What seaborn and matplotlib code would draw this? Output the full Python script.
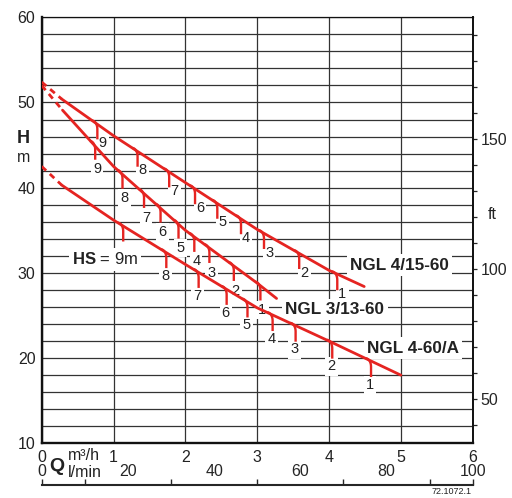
import numpy as np
import matplotlib
matplotlib.use('Agg')
import matplotlib.pyplot as plt
import seaborn as sns

# pump curves (Q in m3/h, H in m)
q_415 = [0.28, 1.00, 2.00, 3.00, 4.00, 4.49]
h_415 = [50.4, 46.1, 40.6, 35.1, 30.3, 28.4]
q_313 = [0.29, 1.00, 2.00, 3.00, 3.27]
h_313 = [49.1, 42.5, 35.0, 28.8, 27.0]
q_460 = [0.28, 1.00, 2.00, 3.00, 4.00, 5.00]
h_460 = [40.3, 36.2, 31.0, 25.9, 22.0, 18.0]

# shut-off head (dashed start at Q=0)
h0_415 = 52.4
h0_313 = 52.0
h0_460 = 42.5

# flow where each stage mark hangs off the curve
stages_415 = [0.72, 1.28, 1.72, 2.08, 2.39, 2.72, 3.04, 3.53, 4.06]
stages_313 = [0.69, 1.07, 1.37, 1.60, 1.85, 2.07, 2.28, 2.62, 2.99]
stages_460 = [1.08, 1.68, 2.13, 2.52, 2.81, 3.16, 3.48, 3.99, 4.53]
stage_labels = ['9', '8', '7', '6', '5', '4', '3', '2', '1']

RED = '#e52421'
INK = '#222222'

sns.set_style('white')
plt.rcParams['font.family'] = ['Liberation Sans', 'DejaVu Sans']
plt.rcParams['mathtext.fontset'] = 'custom'
plt.rcParams['mathtext.rm'] = 'Liberation Sans'
plt.rcParams['mathtext.bf'] = 'Liberation Sans:bold'

fig = plt.figure(figsize=(5.12, 4.98), dpi=100)
ax = fig.add_axes([0.0814, 0.1098, 0.8418, 0.8555])
ax.set_xlim(0, 6)
ax.set_ylim(10, 60)
ax.set_xticks(range(7))
ax.set_yticks(range(10, 61, 10))
ax.set_yticks(range(10, 61, 2), minor=True)
ax.set_axisbelow(True)
ax.grid(True, which='both', color='#333333', lw=0.9)
ax.tick_params(which='both', length=0, labelsize=11.5, colors=INK)
ax.tick_params(axis='y', pad=4.5)
ax.tick_params(axis='x', pad=4.5)
for s, w in [('left', 1.7), ('bottom', 1.7), ('right', 1.3), ('top', 0.9)]:
    ax.spines[s].set_linewidth(w)
    ax.spines[s].set_color('#111111')

# right axis in feet
sec_y = ax.secondary_yaxis('right', functions=(lambda m: m / 0.3048, lambda f: f * 0.3048))
sec_y.set_yticks([50, 100, 150])
sec_y.set_yticks(range(40, 200, 10), minor=True)
sec_y.tick_params(which='both', length=3, width=0.9, direction='out', labelsize=11.5, pad=2.5)
sec_y.spines['right'].set_linewidth(1.3)
ax.text(1.036, 36.8, 'ft', transform=ax.get_yaxis_transform(), fontsize=11.5,
        ha='left', va='center', color=INK)

# second flow axis in l/min
sec_x = ax.secondary_xaxis(-0.098, functions=(lambda q: q * 1000 / 60, lambda l: l * 60 / 1000))
sec_x.set_alignment('top')
sec_x.set_xticks(range(0, 101, 20))
sec_x.set_xticks([0, 10, 30, 50, 70, 90, 100], minor=True)
sec_x.xaxis.remove_overlapping_locs = False
sec_x.tick_params(which='major', length=0, pad=4.5, labelsize=11.5)
sec_x.tick_params(which='minor', length=4, width=1.0, direction='out')
sec_x.spines['top'].set_linewidth(1.5)


def draw_pump(q, h, h0, stages, labels, dx, dy):
    ax.plot([0, q[0]], [h0, h[0]], color=RED, lw=2.0, dashes=(2.2, 1.8), zorder=4)
    sns.lineplot(x=q, y=h, color=RED, lw=2.0, sort=False, ax=ax, zorder=4)
    t = np.linspace(0, np.pi / 2, 14)
    for qs, lab in zip(stages, labels):
        hs = np.interp(qs, q, h)
        xs = np.append(qs - 0.02 + 0.075 * np.sin(t), qs + 0.055)
        ys = np.append(hs + 0.1 - 1.0 * (1 - np.cos(t)), hs - 2.1)
        ax.plot(xs, ys, color=RED, lw=1.7, solid_capstyle='butt', zorder=4)
        if lab:
            ax.annotate(lab, (qs, hs), xytext=(dx, dy), textcoords='offset points',
                        ha='center', va='center', fontsize=10.5, color=INK, zorder=3,
                        bbox=dict(boxstyle='square,pad=0.15', fc='white', ec='none'))


draw_pump(q_415, h_415, h0_415, stages_415, stage_labels, 6.5, -15.5)
draw_pump(q_313, h_313, h0_313, stages_313, stage_labels, 4.2, -19.8)
draw_pump(q_460, h_460, h0_460, stages_460, [''] + stage_labels[1:], 2.2, -18.5)

box = dict(boxstyle='square,pad=0.2', fc='white', ec='none')
ax.text(0.88, 31.6, r'$\mathbf{HS}$ = 9m', fontsize=12, ha='center', va='center',
        color=INK, bbox=box, zorder=3)
ax.text(4.98, 30.9, 'NGL 4/15-60', fontsize=12.3, fontweight='bold', ha='center',
        va='center', color=INK, bbox=box, zorder=3)
ax.text(4.08, 25.7, 'NGL 3/13-60', fontsize=12.3, fontweight='bold', ha='center',
        va='center', color=INK, bbox=box, zorder=3)
ax.text(5.17, 21.15, 'NGL 4-60/A', fontsize=12.3, fontweight='bold', ha='center',
        va='center', color=INK, bbox=box, zorder=3)

# axis captions
ax.text(-0.043, 45.8, 'H', transform=ax.get_yaxis_transform(), fontsize=13,
        fontweight='bold', ha='center', va='center', color=INK)
ax.text(-0.043, 43.5, 'm', transform=ax.get_yaxis_transform(), fontsize=11.5,
        ha='center', va='center', color=INK)
ax.text(0.035, -0.055, 'Q', transform=ax.transAxes, fontsize=14, fontweight='bold',
        ha='center', va='center', color=INK)
ax.text(0.060, -0.029, 'm³/h', transform=ax.transAxes, fontsize=11.5,
        ha='left', va='center', color=INK)
ax.text(0.060, -0.069, 'l/min', transform=ax.transAxes, fontsize=11.5,
        ha='left', va='center', color=INK)
fig.text(0.882, 0.004, '72.1072.1', fontsize=6.5, ha='center', va='bottom', color=INK)

fig.savefig('out.png', dpi=100)
